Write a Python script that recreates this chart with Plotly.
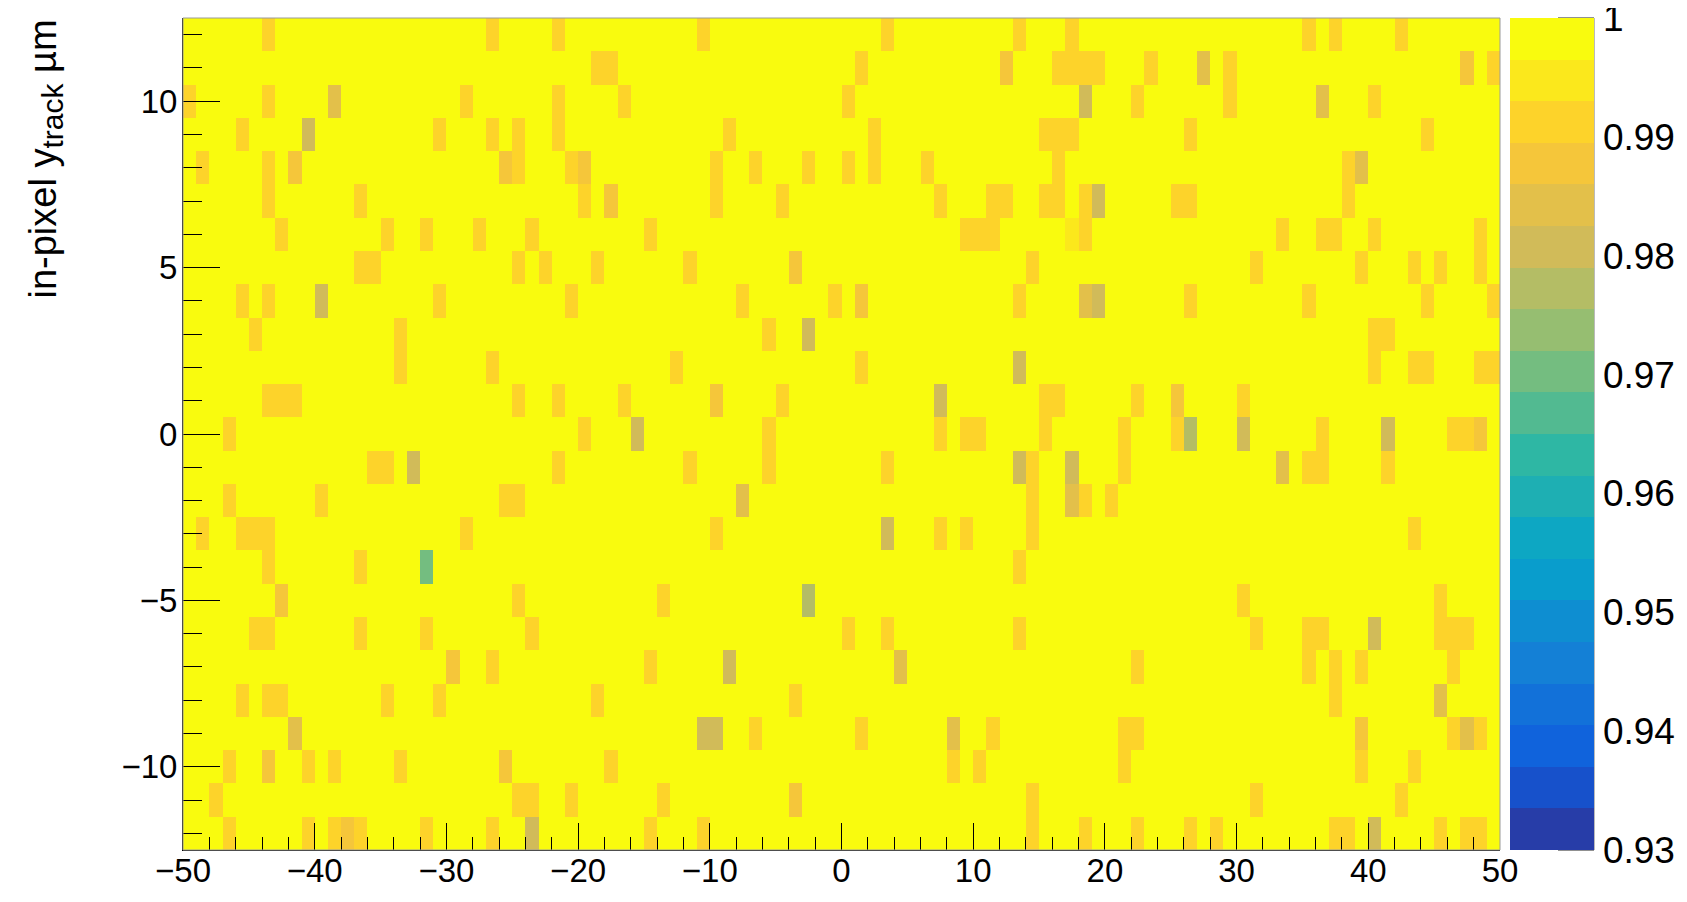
import numpy as np
import plotly.graph_objects as go

# ---------------- data ----------------
x_centers = np.arange(-49.5, 50.0, 1.0)   # 100 bins, 1 um wide
y_centers = np.arange(-12.0, 13.0, 1.0)   # 25 bins, 1 um wide
base_eff = 1.0

eff_levels = [0.995, 0.991, 0.9875, 0.984, 0.9805, 0.977, 0.970]

cells_0995 = [(17.5, 6)]

cells_0991 = [
    # x < -25, upper half
    (-43.5, 12), (-26.5, 12), (-49.5, 10), (-43.5, 10), (-28.5, 10),
    (-45.5, 9), (-30.5, 9), (-26.5, 9), (-48.5, 8), (-43.5, 8),
    (-43.5, 7), (-36.5, 7), (-42.5, 6), (-34.5, 6), (-31.5, 6), (-27.5, 6),
    (-36.5, 5), (-35.5, 5), (-45.5, 4), (-43.5, 4), (-30.5, 4),
    (-44.5, 3), (-33.5, 3), (-33.5, 2), (-26.5, 2),
    (-43.5, 1), (-42.5, 1), (-41.5, 1), (-46.5, 0),
    # x < -25, lower half
    (-35.5, -1), (-34.5, -1), (-46.5, -2), (-39.5, -2), (-25.5, -2),
    (-48.5, -3), (-45.5, -3), (-44.5, -3), (-43.5, -3), (-28.5, -3),
    (-43.5, -4), (-36.5, -4), (-44.5, -6), (-43.5, -6), (-36.5, -6), (-31.5, -6),
    (-26.5, -7), (-45.5, -8), (-43.5, -8), (-42.5, -8), (-34.5, -8), (-30.5, -8),
    (-46.5, -10), (-40.5, -10), (-38.5, -10), (-33.5, -10), (-47.5, -11),
    (-46.5, -12), (-40.5, -12), (-38.5, -12), (-36.5, -12), (-31.5, -12), (-26.5, -12),
    # -25 < x < 0, upper half
    (-21.5, 12), (-10.5, 12), (-18.5, 11), (-17.5, 11), (-21.5, 10), (-16.5, 10),
    (-21.5, 9), (-24.5, 9), (-8.5, 9), (-24.5, 8), (-20.5, 8), (-9.5, 8),
    (-6.5, 8), (-2.5, 8), (-19.5, 7), (-9.5, 7), (-4.5, 7), (-23.5, 6), (-14.5, 6),
    (-24.5, 5), (-22.5, 5), (-18.5, 5), (-11.5, 5), (-20.5, 4), (-7.5, 4), (-0.5, 4),
    (-5.5, 3), (-12.5, 2), (-24.5, 1), (-21.5, 1), (-16.5, 1), (-4.5, 1),
    (-19.5, 0), (-5.5, 0),
    # -25 < x < 0, lower half
    (-5.5, -1), (-21.5, -1), (-11.5, -1), (-24.5, -2), (-9.5, -3),
    (-24.5, -5), (-13.5, -5), (-23.5, -6), (-14.5, -7), (-18.5, -8), (-3.5, -8),
    (-6.5, -9), (-17.5, -10), (-24.5, -11), (-23.5, -11), (-20.5, -11), (-13.5, -11),
    (-14.5, -12), (-10.5, -12),
    # 0 < x < 25, upper half
    (3.5, 12), (13.5, 12), (17.5, 12), (1.5, 11), (16.5, 11), (17.5, 11),
    (18.5, 11), (19.5, 11), (23.5, 11), (0.5, 10), (22.5, 10),
    (2.5, 9), (15.5, 9), (16.5, 9), (17.5, 9), (0.5, 8), (2.5, 8), (6.5, 8), (16.5, 8),
    (7.5, 7), (11.5, 7), (12.5, 7), (15.5, 7), (16.5, 7), (18.5, 7),
    (9.5, 6), (10.5, 6), (11.5, 6), (18.5, 6), (14.5, 5), (13.5, 4), (1.5, 2),
    (15.5, 1), (16.5, 1), (22.5, 1), (7.5, 0), (9.5, 0), (10.5, 0), (15.5, 0), (21.5, 0),
    # 0 < x < 25, lower half
    (21.5, -1), (3.5, -1), (14.5, -1), (14.5, -2), (18.5, -2), (20.5, -2),
    (7.5, -3), (9.5, -3), (14.5, -3), (13.5, -4), (0.5, -6), (3.5, -6), (13.5, -6),
    (22.5, -7), (1.5, -9), (11.5, -9), (21.5, -9), (22.5, -9),
    (8.5, -10), (10.5, -10), (21.5, -10), (14.5, -11), (14.5, -12), (18.5, -12), (22.5, -12),
    # x > 25, upper half
    (35.5, 12), (37.5, 12), (42.5, 12), (29.5, 11), (49.5, 11), (29.5, 10), (40.5, 10),
    (26.5, 9), (44.5, 9), (38.5, 8), (25.5, 7), (26.5, 7), (38.5, 7),
    (33.5, 6), (36.5, 6), (37.5, 6), (40.5, 6), (48.5, 6),
    (31.5, 5), (39.5, 5), (43.5, 5), (45.5, 5), (48.5, 5),
    (26.5, 4), (35.5, 4), (44.5, 4), (49.5, 4), (40.5, 3), (41.5, 3),
    (40.5, 2), (43.5, 2), (44.5, 2), (48.5, 2), (49.5, 2), (30.5, 1),
    (25.5, 0), (36.5, 0), (46.5, 0), (47.5, 0),
    # x > 25, lower half
    (35.5, -1), (36.5, -1), (41.5, -1), (43.5, -3), (30.5, -5), (45.5, -5),
    (31.5, -6), (35.5, -6), (36.5, -6), (45.5, -6), (46.5, -6), (47.5, -6),
    (35.5, -7), (37.5, -7), (39.5, -7), (46.5, -7), (37.5, -8),
    (46.5, -9), (48.5, -9), (39.5, -10), (43.5, -10), (31.5, -11), (42.5, -11),
    (26.5, -12), (28.5, -12), (37.5, -12), (38.5, -12), (45.5, -12), (47.5, -12), (48.5, -12),
]

cells_09875 = [
    (-41.5, 8), (-25.5, 8), (-42.5, -5), (-29.5, -7), (-43.5, -10), (-25.5, -10),
    (-37.5, -12), (-19.5, 8), (-17.5, 7), (-3.5, 5), (-9.5, 1), (-3.5, -11),
    (12.5, 11), (1.5, 4), (47.5, 11), (25.5, 1), (48.5, 0), (39.5, -9),
]

cells_0984 = [
    (-38.5, 10), (-41.5, -9), (-7.5, -2), (18.5, 4), (17.5, -2), (4.5, -7),
    (8.5, -9), (27.5, 11), (36.5, 10), (39.5, 8), (33.5, -1), (45.5, -8), (47.5, -9),
]

cells_09805 = [
    (-40.5, 9), (-39.5, 4), (-32.5, -1), (-2.5, 3), (-15.5, 0), (-8.5, -7),
    (-10.5, -9), (-9.5, -9), (-23.5, -12), (18.5, 10), (19.5, 7), (19.5, 4),
    (13.5, 2), (7.5, 1), (13.5, -1), (17.5, -1), (3.5, -3), (30.5, 0),
    (41.5, 0), (40.5, -6), (40.5, -12),
]

cells_0977 = [(-2.5, -5), (26.5, 0)]

cells_0970 = [(-31.5, -4)]

cb_tickvals = [0.93, 0.94, 0.95, 0.96, 0.97, 0.98, 0.99, 1.0]
cb_ticktext = ["0.93", "0.94", "0.95", "0.96", "0.97", "0.98", "0.99", "1"]
x_tickvals = [-50, -40, -30, -20, -10, 0, 10, 20, 30, 40, 50]
y_tickvals = [-10, -5, 0, 5, 10]
zmin, zmax = 0.93, 1.0

# ---------------- build matrix ----------------
z = np.full((len(y_centers), len(x_centers)), base_eff)
groups = [cells_0995, cells_0991, cells_09875, cells_0984, cells_09805, cells_0977, cells_0970]
for val, cells in zip(eff_levels, groups):
    for (cx, cy) in cells:
        i = int(np.argmin(np.abs(x_centers - cx)))
        j = int(np.argmin(np.abs(y_centers - cy)))
        z[j, i] = val

# ---------------- ROOT kBird palette, 20 contour bands ----------------
stops = [0.0, 0.125, 0.25, 0.375, 0.5, 0.625, 0.75, 0.875, 1.0]
red = [0.2082, 0.0592, 0.0780, 0.0232, 0.1802, 0.5301, 0.8186, 0.9956, 0.9764]
green = [0.1664, 0.3599, 0.5041, 0.6419, 0.7178, 0.7492, 0.7328, 0.7862, 0.9832]
blue = [0.5293, 0.8684, 0.8385, 0.7914, 0.6425, 0.4662, 0.3499, 0.1968, 0.0539]
ndiv = 20
colorscale = []
for k in range(ndiv):
    idx = int((k + 0.99) * 255 / ndiv)
    t = idx / 254.0
    r = np.interp(t, stops, red)
    g = np.interp(t, stops, green)
    b = np.interp(t, stops, blue)
    col = "rgb(%d,%d,%d)" % (round(r * 255), round(g * 255), round(b * 255))
    colorscale.append([k / ndiv, col])
    colorscale.append([(k + 1) / ndiv, col])

FONT = "Liberation Sans, Arial, Helvetica, sans-serif"

# the page body has an 8px margin, so the figure is laid out 8px in from the window
OFF = 8
WIN_W, WIN_H = 1687, 902
W, H = WIN_W - OFF, WIN_H - OFF
plot_l, plot_r, plot_t, plot_b = 183 - OFF, 1500 - OFF, 18 - OFF, 850 - OFF
ml, mr, mt, mb = plot_l, W - plot_r, plot_t, H - plot_b
pw = plot_r - plot_l
bar_left_px, bar_right_px = 1510 - OFF, 1594 - OFF
bar_tick_px = 36

fig = go.Figure(go.Heatmap(
    x=x_centers, y=y_centers, z=z,
    zmin=zmin, zmax=zmax, zsmooth=False,
    colorscale=colorscale,
    colorbar=dict(
        x=(bar_left_px - ml) / pw, xanchor="left", xpad=0, ypad=0,
        y=0.5, yanchor="middle", len=1.0, lenmode="fraction",
        thickness=bar_right_px - bar_left_px, outlinewidth=0,
        tickmode="array", tickvals=cb_tickvals, ticktext=cb_ticktext,
        ticklabeloverflow="allow",
        ticks="outside", ticklen=2, tickwidth=1, tickcolor="rgba(0,0,0,0)",
        tickfont=dict(family=FONT, size=37, color="#000"),
    ),
))

shapes = [dict(type="rect", xref="paper", yref="paper", x0=0, x1=1, y0=0, y1=1,
               line=dict(color="#9a9a9a", width=1), layer="above")]
# palette-axis tick marks drawn inside the colour bar (ROOT style)
for v in cb_tickvals:
    yy = (v - zmin) / (zmax - zmin)
    shapes.append(dict(type="line", xref="paper", yref="paper",
                       x0=(bar_right_px - bar_tick_px - ml) / pw, x1=(bar_right_px - ml) / pw,
                       y0=yy, y1=yy, line=dict(color="#222", width=1), layer="above"))
shapes.append(dict(type="line", xref="paper", yref="paper",
                   x0=(bar_right_px - ml) / pw, x1=(bar_right_px - ml) / pw, y0=0, y1=1,
                   line=dict(color="#777", width=1), layer="above"))

fig.update_layout(
    width=W, height=H,
    margin=dict(l=ml, r=mr, t=mt, b=mb, autoexpand=False),
    paper_bgcolor="white", plot_bgcolor="white",
    font=dict(family=FONT, size=32, color="#000"),
    xaxis=dict(
        range=[-50, 50], tickvals=x_tickvals,
        ticks="inside", ticklen=27, tickwidth=1, tickcolor="#000",
        minor=dict(dtick=2, tick0=0, ticks="inside", ticklen=13, tickwidth=1, tickcolor="#000", showgrid=False),
        showgrid=False, zeroline=False, automargin=False,
        showline=True, linecolor="#000", linewidth=1,
        ticklabelstandoff=-9,
        tickfont=dict(family=FONT, size=33, color="#000"),
    ),
    yaxis=dict(
        range=[-12.5, 12.5], tickvals=y_tickvals,
        ticks="inside", ticklen=37, tickwidth=1, tickcolor="#000",
        minor=dict(dtick=1, tick0=0, ticks="inside", ticklen=19, tickwidth=1, tickcolor="#000", showgrid=False),
        showgrid=False, zeroline=False, automargin=False,
        showline=True, linecolor="#000", linewidth=1,
        ticklabelstandoff=-2,
        tickfont=dict(family=FONT, size=33, color="#000"),
    ),
    shapes=shapes,
    annotations=[dict(
        text="in-pixel y<sub><span style='font-size:30px'>track</span></sub> µm", textangle=-90,
        xref="paper", yref="paper", x=(45 - OFF - ml) / pw, y=1.0,
        xanchor="center", yanchor="top", showarrow=False,
        font=dict(family=FONT, size=38, color="#000"),
    )],
)

fig.write_html("out.html")
